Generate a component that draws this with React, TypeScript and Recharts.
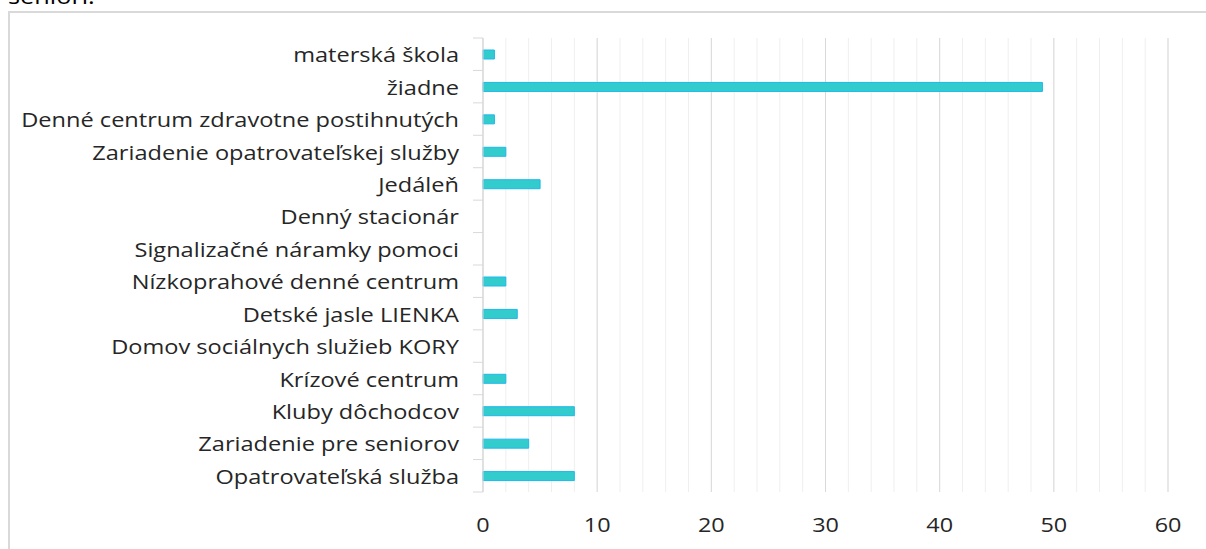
import React from 'react';
import { BarChart, Bar, XAxis, YAxis, CartesianGrid } from 'recharts';

const categories: string[] = [
  'materská škola',
  'žiadne',
  'Denné centrum zdravotne postihnutých',
  'Zariadenie opatrovateľskej služby',
  'Jedáleň',
  'Denný stacionár',
  'Signalizačné náramky pomoci',
  'Nízkoprahové denné centrum',
  'Detské jasle LIENKA',
  'Domov sociálnych služieb KORY',
  'Krízové centrum',
  'Kluby dôchodcov',
  'Zariadenie pre seniorov',
  'Opatrovateľská služba',
];

const values: number[] = [1, 49, 1, 2, 5, 0, 0, 2, 3, 0, 2, 8, 4, 8];

const xDomain: [number, number] = [0, 60];
const majorTicks: number[] = [0, 10, 20, 30, 40, 50, 60];
const minorTicks: number[] = [0, 2, 4, 6, 8, 10, 12, 14, 16, 18, 20, 22, 24, 26, 28, 30, 32, 34, 36, 38, 40, 42, 44, 46, 48, 50, 52, 54, 56, 58, 60];

const data = categories.map((name, i) => ({ name, value: values[i] }));

const FONT = '"Open Sans", sans-serif';
const Y_TICK_GAP = 24;

function YTick(props: any) {
  const { x, y, payload, index, height, visibleTicksCount } = props;
  const band = height && visibleTicksCount ? height / visibleTicksCount : 32.4;
  const axisX = x + Y_TICK_GAP;
  const topEdge = y - band / 2;
  const bottomEdge = y + band / 2;
  return (
    <g>
      <line x1={axisX - 10} x2={axisX} y1={topEdge} y2={topEdge} stroke="#d9d9d9" strokeWidth={1} />
      {index === visibleTicksCount - 1 ? (
        <line x1={axisX - 10} x2={axisX} y1={bottomEdge} y2={bottomEdge} stroke="#d9d9d9" strokeWidth={1} />
      ) : null}
      <g transform={`translate(${x},${y + 8}) scale(1.15,1)`}>
        <text x={0} y={0} textAnchor="end" fontSize={20.5} fill="#262626" fontFamily={FONT}>
          {payload.value}
        </text>
      </g>
    </g>
  );
}

function XTick(props: any) {
  const { x, y, payload } = props;
  return (
    <g transform={`translate(${x},${y + 40}) scale(1.2,1)`}>
      <text x={0} y={0} textAnchor="middle" fontSize={19.5} fill="#262626" fontFamily={FONT}>
        {payload.value}
      </text>
    </g>
  );
}

function minorGridPoints(args: any) {
  const xAxis = args && args.xAxis;
  if (xAxis && typeof xAxis.scale === 'function') {
    return minorTicks.map((v) => xAxis.scale(v));
  }
  const off = args.offset;
  return minorTicks.map((v) => off.left + ((v - xDomain[0]) / (xDomain[1] - xDomain[0])) * off.width);
}

export default function App() {
  return (
    <div style={{ position: 'fixed', left: 0, top: 0, width: 1206, height: 549, overflow: 'hidden', background: '#fff', fontFamily: FONT }}>
      <div style={{ position: 'absolute', left: 8, top: -16, fontSize: 22, lineHeight: '22px', color: '#000', fontFamily: FONT, transform: 'scaleX(1.15)', transformOrigin: 'left top' }}>seniori.</div>
      <div style={{ position: 'absolute', left: 8, top: 11, width: 1400, height: 700, border: '2px solid #d9d9d9', boxSizing: 'border-box' }} />
      <div style={{ position: 'absolute', left: 0, top: 0 }}>
        <BarChart
          width={1206}
          height={549}
          data={data}
          layout="vertical"
          margin={{ top: 38, right: 38, bottom: 0, left: 0 }}
          barCategoryGap={0}
        >
          <CartesianGrid
            horizontal={false}
            vertical
            stroke="#efefef"
            strokeWidth={1}
            verticalCoordinatesGenerator={minorGridPoints}
          />
          <CartesianGrid horizontal={false} vertical stroke="#d9d9d9" strokeWidth={1} />
          <XAxis
            type="number"
            domain={xDomain}
            ticks={majorTicks}
            height={57}
            axisLine={false}
            tickLine={false}
            tickSize={0}
            tickMargin={0}
            tick={<XTick />}
            interval={0}
          />
          <YAxis
            type="category"
            dataKey="name"
            width={483}
            axisLine={{ stroke: '#d9d9d9' }}
            tickLine={false}
            tickSize={0}
            tickMargin={Y_TICK_GAP}
            tick={<YTick />}
            interval={0}
          />
          <Bar
            dataKey="value"
            fill="#33CCCC"
            stroke="#1CB8EE"
            strokeWidth={1}
            barSize={9}
            isAnimationActive={false}
          />
        </BarChart>
      </div>
    </div>
  );
}
